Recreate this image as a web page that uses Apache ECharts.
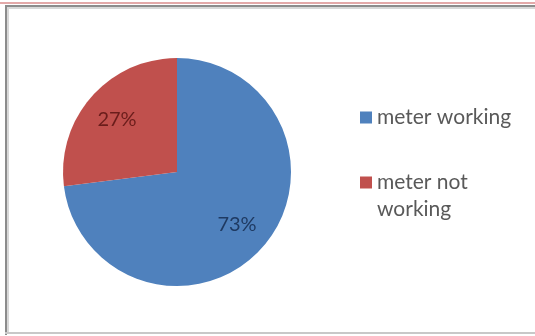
<!DOCTYPE html>
<html>
<head>
<meta charset="utf-8">
<script src="https://cdn.jsdelivr.net/npm/echarts@6/dist/echarts.min.js"></script>
<style>
  html, body { margin: 0; padding: 0; background: #fff; }
  #wrap { position: relative; width: 535px; height: 336px; overflow: hidden; }
  #chart { position: absolute; left: 0; top: 0; width: 535px; height: 336px; }
  .rule { position: absolute; pointer-events: none; }
</style>
</head>
<body>
<div id="wrap">
  <div id="chart"></div>
  <!-- page rule above the chart frame -->
  <div class="rule" style="left:0;top:2px;width:535px;height:2px;background:#e3a9a9;"></div>
  <!-- chart frame -->
  <div class="rule" style="left:5px;top:5px;width:540px;height:2px;background:#8c8c8c;"></div>
  <div class="rule" style="left:7px;top:7px;width:540px;height:2px;background:#d8d8d8;"></div>
  <div class="rule" style="left:5px;top:5px;width:2px;height:330px;background:#8c8c8c;"></div>
  <div class="rule" style="left:7px;top:7px;width:2px;height:326px;background:#d8d8d8;"></div>
  <div class="rule" style="left:5px;top:332px;width:540px;height:2px;background:#c8c8c8;"></div>
</div>
<script>
// Share of meters by status
const categories = ['meter working', 'meter not working'];
const shares = [73, 27];
const sliceColors = ['#4f81bd', '#c0504d'];
const labelColors = ['#1f3a62', '#6a1d1b'];

const center = [177, 172];
const radius = 114;

const pieData = categories.map((name, i) => ({
  name,
  value: shares[i],
  itemStyle: { color: sliceColors[i] }
}));

// Label-only ring: puts the percentage text further out than the slice midpoint radius
const labelData = categories.map((name, i) => ({
  name,
  value: shares[i],
  itemStyle: { color: 'rgba(0,0,0,0)' },
  label: { color: labelColors[i] }
}));

const legendText = {
  fontFamily: 'Lato, "Open Sans", sans-serif',
  fontSize: 21,
  color: '#595959',
  lineHeight: 27
};

const chart = echarts.init(document.getElementById('chart'), null, { renderer: 'canvas' });
chart.setOption({
  animation: false,
  backgroundColor: '#ffffff',
  legend: [
    {
      orient: 'vertical',
      left: 360,
      top: 104,
      padding: 0,
      itemWidth: 12,
      itemHeight: 12,
      icon: 'rect',
      selectedMode: false,
      data: [{ name: categories[0], itemStyle: { color: sliceColors[0] } }],
      textStyle: legendText
    },
    {
      orient: 'vertical',
      left: 360,
      top: 142,
      padding: 0,
      itemWidth: 12,
      itemHeight: 12,
      icon: 'rect',
      selectedMode: false,
      data: [{ name: categories[1], itemStyle: { color: sliceColors[1] } }],
      // leading empty line keeps the marker beside the first wrapped line
      formatter: (name) => '\n' + name.replace(' not ', ' not\n'),
      textStyle: legendText
    }
  ],
  series: [
    {
      type: 'pie',
      center,
      radius,
      startAngle: 90,
      clockwise: true,
      silent: true,
      label: { show: false },
      labelLine: { show: false },
      emphasis: { disabled: true },
      data: pieData
    },
    {
      type: 'pie',
      center,
      radius: [40, radius],
      startAngle: 90,
      clockwise: true,
      silent: true,
      emphasis: { disabled: true },
      labelLine: { show: false },
      label: {
        show: true,
        position: 'inside',
        formatter: '{c}%',
        fontFamily: 'Lato, "Open Sans", sans-serif',
        fontSize: 20
      },
      data: labelData
    }
  ]
});
</script>
</body>
</html>
